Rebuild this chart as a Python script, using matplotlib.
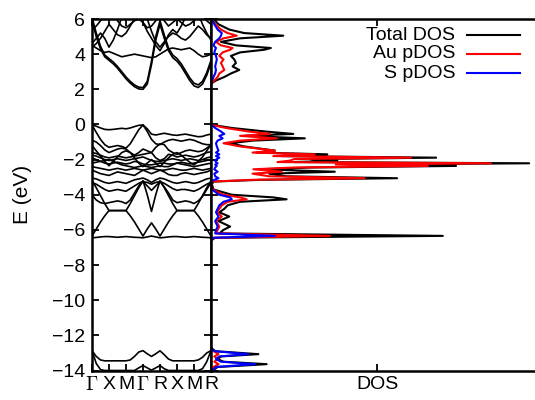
import numpy as np
import matplotlib
matplotlib.use('Agg')
import matplotlib.pyplot as plt

plt.rcParams['font.family'] = ['Liberation Sans', 'DejaVu Sans']
plt.rcParams['mathtext.fontset'] = 'cm'

# k-path sampled at quarter segments: G X M G R X M R
k_labels = [r'$\Gamma$', 'X', 'M', r'$\Gamma$', 'R', 'X', 'M', 'R']
k_path = np.linspace(0, 7, 29)

# band energies (eV)
bands = [
    # deep S 3s-like bands
    [-12.87, -13.2, -13.4, -13.45, -13.45, -13.45, -13.45, -13.45, -13.45, -13.4, -13.2, -12.95, -12.87, -13.05, -13.2,
     -13.05, -12.88, -13.1, -13.35, -13.45, -13.45, -13.45, -13.45, -13.45, -13.45, -13.4, -13.25, -13.0, -12.87],
    [-12.87, -13.6, -13.95, -14.0, -14.0, -14.0, -14.0, -14.0, -14.0, -14.0, -14.0, -13.85, -13.72, -13.85, -13.98,
     -13.85, -13.72, -13.9, -14.0, -14.0, -14.0, -14.0, -14.0, -14.0, -14.0, -14.0, -13.9, -13.5, -12.87],
    # lower valence manifold
    [-3.2, -3.6, -4.05, -4.5, -4.9, -4.9, -4.9, -4.9, -4.9, -4.5, -4.05, -3.6, -3.2, -4.0, -4.95,
     -4.0, -3.2, -3.6, -4.05, -4.5, -4.9, -4.9, -4.9, -4.9, -4.9, -4.5, -4.05, -3.6, -3.2],
    [-6.35, -5.95, -5.55, -5.2, -4.9, -4.9, -4.9, -4.9, -4.9, -5.2, -5.55, -5.95, -6.35, -5.95, -5.6,
     -5.95, -6.35, -5.95, -5.55, -5.2, -4.9, -4.9, -4.9, -4.9, -4.9, -5.2, -5.55, -5.95, -6.35],
    [-6.45, -6.43, -6.4, -6.38, -6.38, -6.4, -6.42, -6.4, -6.38, -6.4, -6.42, -6.43, -6.45, -6.4, -6.35,
     -6.4, -6.45, -6.43, -6.4, -6.38, -6.38, -6.4, -6.42, -6.4, -6.38, -6.4, -6.42, -6.43, -6.45],
    [-4.0, -4.3, -4.45, -4.5, -4.45, -4.4, -4.35, -4.4, -4.5, -4.3, -3.9, -3.5, -3.25, -3.5, -3.75,
     -3.5, -3.25, -3.55, -3.9, -4.3, -4.45, -4.4, -4.35, -4.4, -4.5, -4.35, -4.1, -3.7, -3.3],
    [-3.05, -3.1, -3.2, -3.3, -3.35, -3.3, -3.25, -3.3, -3.35, -3.25, -3.15, -3.1, -3.05, -3.15, -3.3,
     -3.15, -3.05, -3.1, -3.2, -3.3, -3.35, -3.3, -3.25, -3.3, -3.35, -3.3, -3.2, -3.1, -3.05],
    [-3.3, -3.4, -3.55, -3.7, -3.8, -3.75, -3.7, -3.75, -3.8, -3.65, -3.5, -3.35, -3.25, -3.3, -3.4,
     -3.3, -3.25, -3.35, -3.5, -3.65, -3.75, -3.7, -3.7, -3.75, -3.8, -3.7, -3.55, -3.4, -3.3],
    # upper valence manifold
    [-0.03, -0.1, -0.2, -0.28, -0.3, -0.28, -0.25, -0.22, -0.25, -0.2, -0.12, -0.05, -0.03, -0.25, -0.55,
     -0.6, -0.55, -0.5, -0.55, -0.6, -0.62, -0.58, -0.55, -0.6, -0.65, -0.7, -0.68, -0.6, -0.55],
    [-0.03, -0.45, -0.85, -1.15, -1.3, -1.25, -1.2, -1.25, -1.35, -1.1, -0.7, -0.3, -0.03, -0.4, -0.85,
     -1.1, -1.15, -1.0, -0.9, -0.85, -0.9, -0.95, -0.9, -0.85, -0.9, -1.0, -1.1, -1.15, -1.15],
    [-0.9, -1.0, -1.2, -1.45, -1.6, -1.5, -1.4, -1.35, -1.4, -1.6, -1.75, -1.6, -1.4, -1.5, -1.6,
     -1.3, -1.1, -1.15, -1.45, -1.6, -1.7, -1.6, -1.5, -1.45, -1.5, -1.55, -1.5, -1.35, -1.15],
    [-1.6, -1.65, -1.75, -1.85, -1.9, -1.85, -1.8, -1.85, -1.9, -1.85, -1.8, -1.75, -1.7, -1.65, -1.6,
     -1.9, -2.05, -1.95, -1.7, -1.75, -1.85, -1.8, -1.75, -1.8, -1.85, -1.8, -1.7, -1.6, -1.55],
    [-1.75, -1.8, -1.9, -2.0, -2.05, -2.0, -1.95, -2.0, -2.05, -2.0, -1.95, -1.9, -1.85, -1.95, -2.05,
     -2.1, -2.1, -2.05, -2.0, -1.95, -2.0, -2.05, -2.0, -1.95, -2.0, -2.05, -2.0, -1.9, -1.85],
    [-1.9, -2.0, -2.1, -2.2, -2.25, -2.2, -2.15, -2.2, -2.25, -2.2, -2.1, -2.15, -2.25, -2.3, -2.3,
     -2.25, -2.2, -2.2, -2.25, -2.25, -2.2, -2.15, -2.2, -2.25, -2.2, -2.15, -2.1, -2.05, -2.0],
    [-2.2, -2.15, -2.1, -2.05, -2.0, -2.1, -2.2, -2.3, -2.35, -2.4, -2.45, -2.4, -2.35, -2.4, -2.45,
     -2.4, -2.35, -2.4, -2.4, -2.3, -2.2, -2.25, -2.3, -2.35, -2.4, -2.35, -2.3, -2.25, -2.2],
    [-2.4, -2.45, -2.5, -2.55, -2.6, -2.55, -2.5, -2.55, -2.6, -2.55, -2.5, -2.55, -2.6, -2.55, -2.5,
     -2.55, -2.6, -2.6, -2.55, -2.5, -2.55, -2.6, -2.6, -2.55, -2.5, -2.55, -2.6, -2.55, -2.5],
    [-2.6, -2.7, -2.8, -2.85, -2.9, -2.8, -2.7, -2.75, -2.8, -2.85, -2.9, -2.75, -2.6, -2.7, -2.8,
     -2.7, -2.6, -2.7, -2.85, -2.9, -2.9, -2.8, -2.75, -2.8, -2.85, -2.8, -2.75, -2.7, -2.6],
    [-1.2, -1.5, -1.8, -2.1, -2.35, -2.1, -1.85, -1.6, -1.5, -1.6, -1.9, -2.2, -2.4, -2.2, -2.0,
     -2.2, -2.4, -2.15, -1.9, -1.7, -1.6, -1.75, -1.95, -2.15, -2.3, -2.1, -1.85, -1.5, -1.15],
    # conduction bands
    [5.9, 5.0, 4.3, 3.85, 3.65, 3.45, 3.2, 2.9, 2.6, 2.35, 2.15, 2.02, 2.0, 2.3, 3.4,
     4.8, 5.7, 4.9, 4.2, 3.8, 3.6, 3.3, 2.9, 2.5, 2.2, 2.1, 2.3, 2.8, 3.5],
    [6.1, 5.2, 4.45, 3.95, 3.75, 3.55, 3.3, 3.0, 2.7, 2.45, 2.25, 2.12, 2.1, 2.45, 3.6,
     5.0, 5.9, 5.1, 4.35, 3.95, 3.75, 3.45, 3.05, 2.65, 2.35, 2.25, 2.45, 2.95, 3.65],
    [4.5, 4.35, 4.2, 4.1, 4.15, 4.05, 3.95, 3.85, 3.9, 3.95, 4.0, 3.95, 3.9, 3.85, 3.8,
     3.85, 4.0, 4.15, 4.3, 4.35, 4.3, 4.25, 4.3, 4.35, 4.2, 4.0, 3.85, 3.9, 4.0],
    [4.6, 4.9, 5.2, 4.9, 4.4, 4.8, 5.4, 6.1, 6.5, 6.5, 6.5, 6.2, 5.8, 5.3, 4.9,
     4.5, 4.2, 4.6, 5.1, 5.4, 5.2, 5.6, 6.1, 6.5, 6.5, 6.3, 5.7, 5.2, 4.8],
    [4.4, 4.6, 4.9, 5.3, 5.7, 5.4, 5.1, 5.0, 5.2, 5.6, 6.0, 6.4, 6.5, 6.0, 5.3,
     4.7, 4.4, 4.7, 5.0, 5.2, 5.1, 4.9, 4.8, 5.0, 5.3, 5.6, 5.4, 5.1, 4.9],
    [5.4, 5.6, 5.9, 6.2, 6.5, 6.3, 5.9, 5.6, 5.5, 5.7, 5.9, 6.0, 5.8, 5.5, 5.6,
     5.9, 6.2, 5.9, 5.6, 5.8, 6.0, 5.8, 5.6, 5.7, 5.9, 6.1, 6.2, 5.9, 5.7],
]

# density of states on a shared energy grid (eV)
dos_energy = [6.0, 5.7, 5.4, 5.2, 5.05, 4.9, 4.7, 4.5, 4.35, 4.25, 4.1, 3.9, 3.7, 3.5, 3.3, 3.1, 2.9, 2.7, 2.5,
              2.35, 2.2,
              0.1, -0.03, -0.2, -0.4, -0.54, -0.65, -0.79, -0.92, -1.07, -1.25, -1.49, -1.6, -1.7, -1.8, -1.89,
              -1.97, -2.06, -2.14, -2.21, -2.28, -2.36, -2.45, -2.55, -2.69, -2.8, -2.95, -3.06, -3.15, -3.25,
              -3.4, -3.7, -4.0, -4.15, -4.26, -4.4, -4.6, -4.8, -5.0, -5.24, -5.5, -5.81, -6.0, -6.2, -6.34,
              -6.45, -6.6,
              -12.7, -12.9, -13.07, -13.2, -13.35, -13.5, -13.64, -13.8, -14.0]
dos_total = [0.3, 0.9, 2.2, 4.0, 8.7, 3.5, 1.2, 3.0, 7.2, 6.4, 3.5, 2.4, 2.8, 3.0, 2.6, 3.4, 2.4, 1.6, 0.6,
             0.1, 0.0,
             0.0, 0.2, 2.5, 6.5, 9.9, 4.0, 11.3, 5.0, 2.3, 4.0, 7.7, 5.5, 14.0, 8.5, 27.1,
             12.0, 15.2, 10.0, 38.3, 18.0, 29.5, 12.0, 6.0, 14.9, 7.0, 9.0, 22.4, 6.0, 0.3,
             0.1, 0.3, 2.5, 7.5, 9.1, 3.5, 2.0, 1.6, 1.0, 2.2, 0.9, 2.3, 1.5, 1.0, 27.9,
             0.5, 0.0,
             0.0, 0.5, 5.7, 1.2, 0.8, 1.5, 6.7, 0.8, 0.2]
dos_au_p = [0.2, 0.5, 1.2, 2.0, 3.1, 1.5, 0.6, 1.2, 2.6, 2.3, 1.4, 1.0, 1.5, 1.2, 1.4, 1.6, 1.0, 0.8, 0.4,
            0.1, 0.0,
            0.0, 0.1, 1.8, 4.5, 7.1, 3.5, 7.9, 3.5, 1.5, 3.5, 7.7, 5.0, 12.5, 7.5, 24.1,
            10.0, 9.5, 8.0, 33.7, 15.0, 26.1, 10.0, 5.1, 8.5, 5.0, 7.0, 18.5, 5.0, 0.2,
            0.1, 0.2, 1.5, 3.5, 4.3, 2.0, 1.3, 1.0, 0.7, 1.3, 0.6, 1.0, 0.8, 0.6, 14.3,
            0.3, 0.0,
            0.0, 0.3, 0.9, 0.4, 0.8, 0.4, 0.9, 0.3, 0.1]
dos_s_p = [0.1, 0.4, 0.8, 1.3, 1.2, 1.0, 0.5, 0.3, 0.6, 0.5, 0.4, 0.6, 0.7, 0.6, 0.5, 0.6, 0.5, 0.3, 0.15,
           0.05, 0.0,
           0.0, 0.1, 0.5, 1.2, 1.6, 1.0, 1.4, 0.8, 0.6, 0.7, 0.9, 0.6, 1.0, 0.6, 1.0,
           0.7, 0.5, 0.6, 0.8, 0.5, 0.7, 0.5, 0.4, 0.8, 0.4, 0.5, 0.9, 0.4, 0.1,
           0.0, 0.1, 1.0, 2.3, 2.5, 1.5, 1.0, 0.8, 0.6, 0.9, 0.5, 0.8, 0.6, 0.5, 7.7,
           0.2, 0.0,
           0.0, 0.4, 4.5, 1.0, 0.6, 1.2, 5.3, 0.6, 0.2]

fig = plt.figure(figsize=(5.35, 4.0), dpi=100)
ax_b = fig.add_axes([92 / 535, 1 - 370.5 / 400, (211 - 92) / 535, 351.5 / 400])
ax_d = fig.add_axes([211 / 535, 1 - 370.5 / 400, (535 - 211) / 535, 351.5 / 400])

for band in bands:
    ax_b.plot(k_path, band, color='black', lw=1.2)
ax_b.set_xlim(0, 7)
ax_b.set_ylim(-14, 6)
ax_b.set_xticks(range(8))
ax_b.set_xticklabels(k_labels)
ax_b.set_yticks(range(-14, 7, 2))
ax_b.set_ylabel('E (eV)', fontsize=15, labelpad=14)
ax_b.tick_params(direction='in', length=5, width=1.3, labelsize=14,
                 top=True, right=True, pad=5)
ax_b.tick_params(axis='x', pad=4)

ax_d.plot(dos_total, dos_energy, color='black', lw=1.5)
ax_d.plot(dos_au_p, dos_energy, color='red', lw=1.5)
ax_d.plot(dos_s_p, dos_energy, color='blue', lw=1.5)
ax_d.set_xlim(0, 39)
ax_d.set_ylim(-14, 6)
ax_d.set_xticks([20])
ax_d.set_xticklabels(['DOS'])
ax_d.set_yticks(range(-14, 7, 2))
ax_d.set_yticklabels([])
ax_d.tick_params(direction='in', length=5, width=1.3, labelsize=14,
                 top=True, right=False, pad=4)
ax_d.spines['right'].set_visible(False)

for ax in (ax_b, ax_d):
    for s in ax.spines.values():
        s.set_linewidth(1.8)

# legend in gnuplot style: labels right-aligned, sample lines to the right
names = ['Total DOS', 'Au pDOS', 'S pDOS']
colors = ['black', 'red', 'blue']
for i, (name, c) in enumerate(zip(names, colors)):
    yy = 1 - (16 + 19 * i) / 351.5
    ax_d.text((455 - 211) / 324, yy, name, transform=ax_d.transAxes,
              ha='right', va='center', fontsize=14)
    ax_d.plot([(467 - 211) / 324, (520 - 211) / 324], [yy, yy],
              transform=ax_d.transAxes, color=c, lw=1.5)

fig.savefig('out.png', dpi=100)
